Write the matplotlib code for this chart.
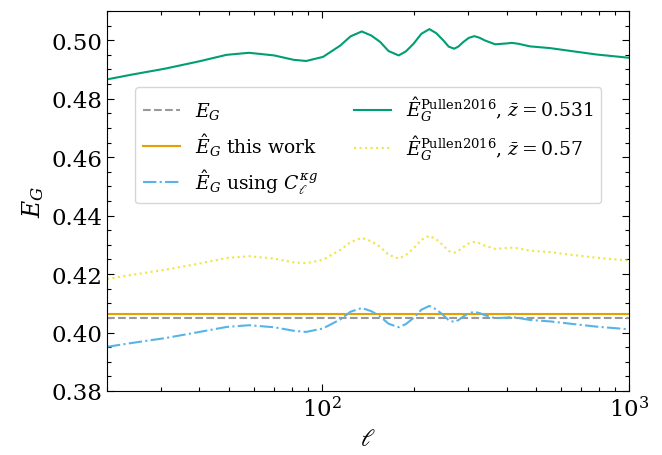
import matplotlib
matplotlib.use('Agg')
import matplotlib.pyplot as plt
from matplotlib.ticker import MultipleLocator

plt.rcParams['font.family'] = 'DejaVu Serif'
plt.rcParams['mathtext.fontset'] = 'dejavuserif'

# multipoles
ell = [20, 24, 31, 40, 49, 58, 70, 81, 89, 101,
       115, 124, 135, 145, 155, 165, 178, 188, 199, 211,
       224, 236, 249, 259, 270, 279, 289, 301, 314, 327,
       340, 367, 400, 415, 436, 476, 554, 659, 786, 1000]

# E_G estimates from Pullen et al. (2016), two mean redshifts
eg_pullen_0531 = [0.4866, 0.4882, 0.4903, 0.4928, 0.4950, 0.4957, 0.4948, 0.4933, 0.4929, 0.4943,
                  0.4982, 0.5013, 0.5030, 0.5016, 0.4994, 0.4963, 0.4948, 0.4962, 0.4988, 0.5022,
                  0.5038, 0.5024, 0.4999, 0.4978, 0.4971, 0.4979, 0.4994, 0.5008, 0.5014, 0.5008,
                  0.4999, 0.4986, 0.4989, 0.4991, 0.4988, 0.4979, 0.4973, 0.4962, 0.4951, 0.4940]
eg_pullen_057 = [0.4183, 0.4197, 0.4215, 0.4236, 0.4255, 0.4261, 0.4253, 0.4240, 0.4237, 0.4249,
                 0.4283, 0.4309, 0.4324, 0.4312, 0.4293, 0.4266, 0.4253, 0.4265, 0.4288, 0.4317,
                 0.4331, 0.4319, 0.4297, 0.4279, 0.4273, 0.4280, 0.4293, 0.4305, 0.4310, 0.4305,
                 0.4297, 0.4286, 0.4289, 0.4290, 0.4288, 0.4280, 0.4275, 0.4265, 0.4256, 0.4246]
# estimator using the cross spectrum C_ell^{kappa g}
eg_cross = [0.3951, 0.3964, 0.3981, 0.4002, 0.4019, 0.4025, 0.4018, 0.4006, 0.4002, 0.4014,
            0.4045, 0.4071, 0.4084, 0.4073, 0.4055, 0.4030, 0.4018, 0.4029, 0.4050, 0.4078,
            0.4091, 0.4079, 0.4059, 0.4042, 0.4036, 0.4043, 0.4055, 0.4066, 0.4071, 0.4066,
            0.4059, 0.4049, 0.4051, 0.4053, 0.4050, 0.4043, 0.4038, 0.4029, 0.4020, 0.4011]

eg_true = 0.405
eg_this_work = 0.4062

fig = plt.figure(figsize=(6.62, 4.56), dpi=100)
ax = fig.add_axes([0.1616, 0.1404, 0.7885, 0.8333])

h_true = ax.axhline(eg_true, color='#999999', ls='--', lw=1.5, label=r'$E_G$')
h_this = ax.axhline(eg_this_work, color='#E69F00', ls='-', lw=1.5,
                    label=r'$\hat{E}_G$ this work')
h_cross, = ax.plot(ell, eg_cross, color='#56B4E9', ls='-.', lw=1.5,
                   label=r'$\hat{E}_G$ using $C_\ell^{\kappa g}$')
h_p1, = ax.plot(ell, eg_pullen_0531, color='#009E73', ls='-', lw=1.5,
                label=r'$\hat{E}_G^{\rm Pullen2016}$, $\bar{z} = 0.531$')
h_p2, = ax.plot(ell, eg_pullen_057, color='#F0E442', ls=':', lw=1.5,
                label=r'$\hat{E}_G^{\rm Pullen2016}$, $\bar{z} = 0.57$')

ax.set_xscale('log')
ax.set_xlim(20, 1000)
ax.set_ylim(0.38, 0.51)
ax.yaxis.set_major_locator(MultipleLocator(0.02))
ax.yaxis.set_minor_locator(MultipleLocator(0.005))
ax.yaxis.set_major_formatter(plt.FormatStrFormatter('%.2f'))

ax.tick_params(which='both', direction='in', top=True, right=True, labelsize=16.5)
ax.tick_params(which='major', length=5, width=0.8)
ax.tick_params(which='minor', length=2.8, width=0.8)

ax.set_xlabel(r'$\ell$', fontsize=17)
ax.set_ylabel(r'$E_G$', fontsize=17)

ax.legend(handles=[h_true, h_this, h_cross, h_p1, h_p2], ncol=2,
          loc='upper left', bbox_to_anchor=(0.054, 0.80), borderaxespad=0,
          fontsize=13.5, columnspacing=1.9, handlelength=2.0)

plt.savefig('out.png', dpi=100)
